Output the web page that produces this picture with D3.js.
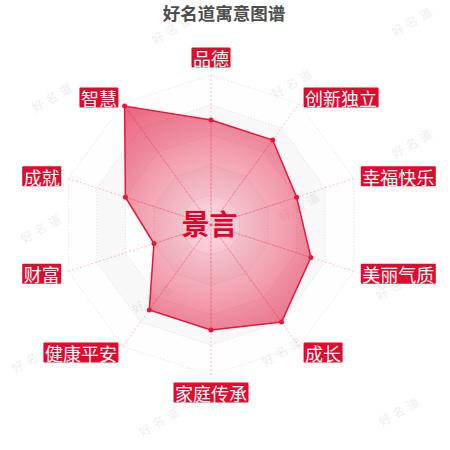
<!DOCTYPE html>
<html lang="zh">
<head>
<meta charset="UTF-8">
<title>好名道寓意图谱</title>
<script src="https://cdnjs.cloudflare.com/ajax/libs/d3/7.8.5/d3.min.js"></script>
<style>
  html, body { margin: 0; padding: 0; background: #fff; }
  svg { display: block; font-family: "Noto Sans CJK SC", "Noto Sans", sans-serif; }
</style>
</head>
<body>
<svg id="chart" width="450" height="450"></svg>
<script>
// data
var indicators = ["品德", "创新独立", "幸福快乐", "美丽气质", "成长", "家庭传承", "健康平安", "财富", "成就", "智慧"];
var scores = [70, 70, 60, 70, 80, 70, 70, 40, 60, 98];
var maxScore = 100;
var ringLevels = [20, 40, 60, 80, 100];
var chartTitle = "好名道寓意图谱";
var nameText = "景言";
var watermark = "好名道";
var watermarkSpots = [[173, 28], [413, 20], [53, 96], [293, 82], [413, 142], [42, 227],
                      [300, 205], [153, 297], [397, 284], [283, 350], [33, 357], [160, 420], [400, 410]];

var cx = 211, cy = 225, radius = 150;
var red = "#df0a2c";

var svg = d3.select("#chart");

// watermarks first, underneath everything
svg.append("g").selectAll("text")
   .data(watermarkSpots)
   .enter()
   .append("text")
   .attr("transform", function(d){ return "translate(" + d[0] + "," + d[1] + ") rotate(-30)"; })
   .attr("text-anchor", "middle")
   .attr("dominant-baseline", "central")
   .attr("font-size", 12)
   .attr("letter-spacing", 4)
   .attr("fill", "#eeeeee")
   .text(watermark);

var rScale = d3.scaleLinear().domain([0, maxScore]).range([0, radius]);
var aScale = d3.scaleLinear().domain([0, indicators.length]).range([0, 2 * Math.PI]);

var g = svg.append("g").attr("transform", "translate(" + cx + "," + cy + ")");

function ringPath(level){
    return d3.lineRadial()
             .angle(function(d, i){ return aScale(i); })
             .radius(function(){ return rScale(level); })
             .curve(d3.curveLinearClosed)(indicators);
}

// split areas, alternating from the inside out
var areaColors = ["rgba(250,250,250,0.25)", "rgba(200,200,200,0.12)"];
ringLevels.forEach(function(level, i){
    var inner = i === 0 ? 0 : ringLevels[i - 1];
    g.append("path")
     .attr("d", ringPath(level) + (inner ? ringPath(inner) : ""))
     .attr("fill-rule", "evenodd")
     .attr("fill", areaColors[i % 2]);
});

// ring lines
g.selectAll(".ring")
 .data(ringLevels)
 .enter()
 .append("path")
 .attr("class", "ring")
 .attr("d", function(d){ return ringPath(d); })
 .attr("fill", "none")
 .attr("stroke", "#dcdcdc")
 .attr("stroke-width", 1)
 .attr("stroke-dasharray", "1,2");

// axis lines
g.selectAll(".axis")
 .data(indicators)
 .enter()
 .append("line")
 .attr("class", "axis")
 .attr("x1", 0).attr("y1", 0)
 .attr("x2", function(d, i){ return rScale(maxScore) * Math.sin(aScale(i)); })
 .attr("y2", function(d, i){ return -rScale(maxScore) * Math.cos(aScale(i)); })
 .attr("stroke", "rgba(230,60,90,0.3)")
 .attr("stroke-width", 1)
 .attr("stroke-dasharray", "2,2");

// data area
var defs = svg.append("defs");
var grad = defs.append("radialGradient")
               .attr("id", "areaFill")
               .attr("gradientUnits", "userSpaceOnUse")
               .attr("cx", 0).attr("cy", 0).attr("r", radius);
grad.append("stop").attr("offset", "0%").attr("stop-color", "rgb(226,20,60)").attr("stop-opacity", 0.14);
grad.append("stop").attr("offset", "100%").attr("stop-color", "rgb(226,20,60)").attr("stop-opacity", 0.68);

var areaLine = d3.lineRadial()
                 .angle(function(d, i){ return aScale(i); })
                 .radius(function(d){ return rScale(d); })
                 .curve(d3.curveLinearClosed);

g.append("path")
 .datum(scores)
 .attr("d", areaLine)
 .attr("fill", "url(#areaFill)")
 .attr("stroke", "#e8163c")
 .attr("stroke-width", 1.5);

// axis lines again inside the area, a little stronger
g.selectAll(".axisIn")
 .data(scores)
 .enter()
 .append("line")
 .attr("x1", 0).attr("y1", 0)
 .attr("x2", function(d, i){ return rScale(d) * Math.sin(aScale(i)); })
 .attr("y2", function(d, i){ return -rScale(d) * Math.cos(aScale(i)); })
 .attr("stroke", "rgba(230,60,90,0.22)")
 .attr("stroke-width", 1);

g.selectAll(".dot")
 .data(scores)
 .enter()
 .append("circle")
 .attr("cx", function(d, i){ return rScale(d) * Math.sin(aScale(i)); })
 .attr("cy", function(d, i){ return -rScale(d) * Math.cos(aScale(i)); })
 .attr("r", 2.5)
 .attr("fill", "#e8163c");

// indicator labels
var labelR = radius + 7.5;
indicators.forEach(function(name, i){
    var a = aScale(i);
    var s = Math.sin(a), c = Math.cos(a);
    var px = labelR * s, py = -labelR * c;
    var lg = g.append("g");
    var box = lg.append("rect").attr("fill", red).attr("rx", 1);
    var t = lg.append("text")
              .attr("font-size", 18)
              .attr("fill", "#fff")
              .attr("text-anchor", "middle")
              .attr("dominant-baseline", "central")
              .text(name);
    var w = t.node().getComputedTextLength() + 3, h = 20;
    var bx, by;
    if (Math.abs(s) < 1e-4) {
        bx = px - w / 2;
        by = c > 0 ? py - h : py;
    } else {
        bx = s > 0 ? px : px - w;
        by = py - h / 2;
    }
    box.attr("x", bx).attr("y", by).attr("width", w).attr("height", h);
    t.attr("x", bx + w / 2).attr("y", by + h / 2 + 0.5);
});

// center name
g.append("text")
 .attr("x", -1.5).attr("y", -2)
 .attr("text-anchor", "middle")
 .attr("dominant-baseline", "central")
 .attr("font-size", 28)
 .attr("font-weight", "bold")
 .attr("fill", "#e3002b")
 .text(nameText);

// title
svg.append("text")
   .attr("x", 224).attr("y", 19.5)
   .attr("text-anchor", "middle")
   .attr("font-size", 17.5)
   .attr("font-weight", "bold")
   .attr("fill", "#4d4d4d")
   .text(chartTitle);
</script>
</body>
</html>
